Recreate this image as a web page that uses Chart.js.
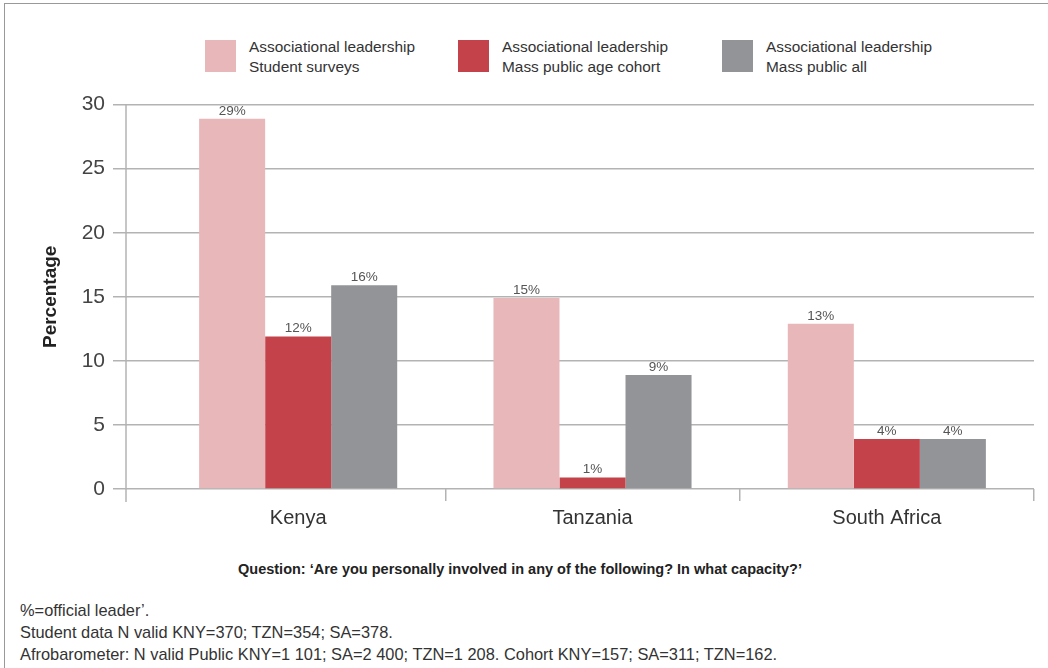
<!DOCTYPE html>
<html>
<head>
<meta charset="utf-8">
<script src="https://cdn.jsdelivr.net/npm/chart.js@4.4.1/dist/chart.umd.min.js"></script>
<style>
  body { margin: 0; background: #fff; font-family: "Liberation Sans", Arial, sans-serif; color: #333; }
  #page { position: relative; width: 1048px; height: 668px; overflow: hidden; }
  #frame { position: absolute; left: 4px; top: 3px; width: 1060px; height: 700px; border-top: 1px solid #999; border-left: 1px solid #999; }
  #legend { position: absolute; top: 40px; left: 0; }
  .item { position: absolute; top: 0; white-space: nowrap; }
  .swatch { position: absolute; left: 0; top: 0; width: 31px; height: 32px; }
  .txt { position: absolute; left: 44px; top: -3px; font-size: 15.4px; line-height: 20px; color: #333; }
  #wrap { position: absolute; left: 0; top: 84px; width: 1048px; height: 460px; }
  #question { position: absolute; top: 561px; left: 0; width: 1040px; text-align: center; font-weight: bold; font-size: 14.5px; color: #222; }
  .note { position: absolute; left: 20px; font-size: 16.4px; color: #333; }
</style>
</head>
<body>
<div id="page">
  <div id="frame"></div>
  <div id="legend"></div>
  <div id="wrap"><canvas id="chart"></canvas></div>
  <div id="question">Question: ‘Are you personally involved in any of the following? In what capacity?’</div>
  <div class="note" style="top:601px">%=official leader’.</div>
  <div class="note" style="top:623px">Student data N valid KNY=370; TZN=354; SA=378.</div>
  <div class="note" style="top:645px">Afrobarometer: N valid Public KNY=1 101; SA=2 400; TZN=1 208. Cohort KNY=157; SA=311; TZN=162.</div>
</div>
<script>
var countries = ['Kenya', 'Tanzania', 'South Africa'];
var seriesNames = [
    ['Associational leadership', 'Student surveys'],
    ['Associational leadership', 'Mass public age cohort'],
    ['Associational leadership', 'Mass public all']
];
var studentSurveys = [28.9, 14.9, 12.9];
var publicCohort = [11.9, 0.9, 3.9];
var publicAll = [15.9, 8.9, 3.9];
var yTicks = [0, 5, 10, 15, 20, 25, 30];
var colours = ['#E8B7BA', '#C4424A', '#939498'];

var legendX = [205, 458, 722];
var legendEl = document.getElementById('legend');
seriesNames.forEach(function (name, i) {
    var item = document.createElement('div');
    item.className = 'item';
    item.style.left = legendX[i] + 'px';
    item.innerHTML = '<div class="swatch" style="background:' + colours[i] + '"></div>' +
        '<div class="txt">' + name.join('<br>') + '</div>';
    legendEl.appendChild(item);
});

var FONT = '"Liberation Sans", Arial, sans-serif';

// value labels above each bar
var barLabels = {
    id: 'barLabels',
    afterDatasetsDraw: function (chart) {
        var ctx = chart.ctx;
        ctx.save();
        ctx.font = '13.5px ' + FONT;
        ctx.fillStyle = '#555';
        ctx.textAlign = 'center';
        ctx.textBaseline = 'bottom';
        chart.data.datasets.forEach(function (ds, i) {
            chart.getDatasetMeta(i).data.forEach(function (bar, j) {
                ctx.fillText(Math.round(ds.data[j]) + '%', bar.x, bar.y - 1);
            });
        });
        ctx.restore();
    }
};

// vertical axis line, set a little left of the plot like the original
var axisLine = {
    id: 'axisLine',
    afterDraw: function (chart) {
        var a = chart.chartArea;
        var ctx = chart.ctx;
        var x = a.left - 25;
        ctx.save();
        ctx.strokeStyle = '#b3b3b3';
        ctx.lineWidth = 1.5;
        ctx.beginPath();
        ctx.moveTo(x, a.top);
        ctx.lineTo(x, a.bottom + 13);
        ctx.stroke();
        ctx.restore();
    }
};

new Chart(document.getElementById('chart'), {
    type: 'bar',
    data: {
        labels: countries,
        datasets: [
            { label: seriesNames[0].join(' '), data: studentSurveys, backgroundColor: colours[0] },
            { label: seriesNames[1].join(' '), data: publicCohort, backgroundColor: colours[1] },
            { label: seriesNames[2].join(' '), data: publicAll, backgroundColor: colours[2] }
        ]
    },
    options: {
        responsive: true,
        maintainAspectRatio: false,
        animation: false,
        layout: { padding: { top: 12, right: 14, left: 0, bottom: 0 } },
        datasets: { bar: { categoryPercentage: 0.673, barPercentage: 1.0 } },
        plugins: {
            legend: { display: false },
            tooltip: { enabled: false }
        },
        scales: {
            x: {
                grid: {
                    offset: true,
                    drawOnChartArea: false,
                    tickLength: 12,
                    lineWidth: 1.5,
                    color: function (c) {
                        return (c.index === 0 || c.index >= countries.length) ? 'rgba(0,0,0,0)' : '#b3b3b3';
                    }
                },
                border: { display: false },
                ticks: { font: { family: FONT, size: 20 }, color: '#333', padding: 5 },
                afterFit: function (scale) { scale.height = 55; }
            },
            y: {
                min: 0,
                max: 30,
                afterBuildTicks: function (scale) {
                    scale.ticks = yTicks.map(function (v) { return { value: v }; });
                },
                grid: { color: '#b3b3b3', lineWidth: 1.5, tickLength: 38 },
                border: { display: false },
                ticks: { font: { family: FONT, size: 21 }, color: '#444', padding: 8 },
                title: {
                    display: true,
                    text: 'Percentage',
                    font: { family: FONT, size: 19, weight: 'bold' },
                    color: '#222',
                    padding: { top: 39, bottom: 0 }
                },
                afterFit: function (scale) { scale.width = 151; }
            }
        }
    },
    plugins: [barLabels, axisLine]
});
</script>
</body>
</html>
